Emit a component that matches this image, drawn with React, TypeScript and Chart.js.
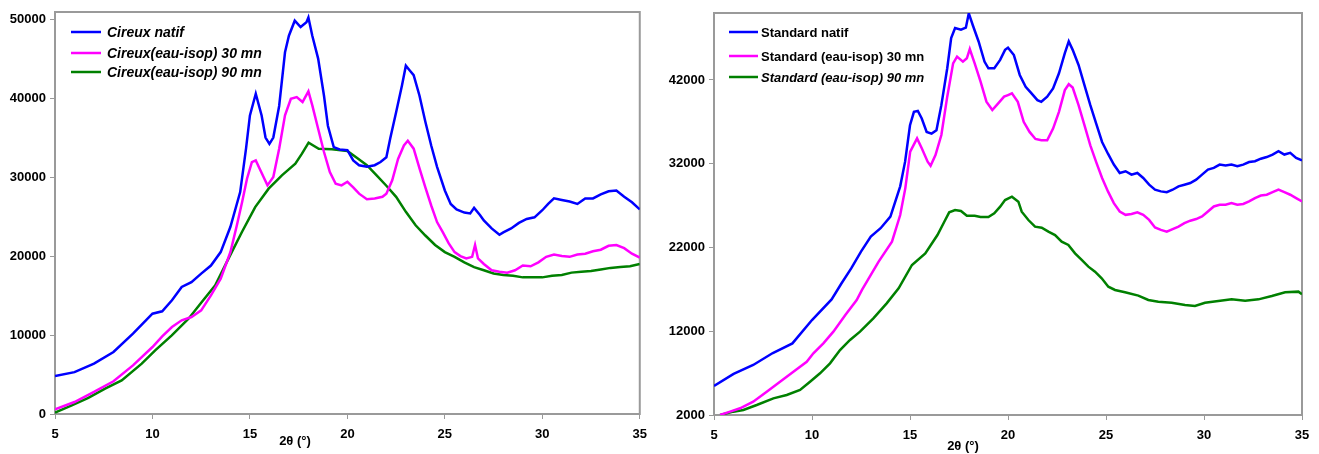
import React, { useEffect, useRef } from "react";
import { Chart, registerables } from "chart.js";

Chart.register(...registerables);

const FONT = '"Liberation Sans", Arial, sans-serif';

type Pt = [number, number];

const xAxisTitle = "2θ (°)";
const xTicks = [5, 10, 15, 20, 25, 30, 35];
const leftYTicks = [0, 10000, 20000, 30000, 40000, 50000];
const rightYTicks = [2000, 12000, 22000, 32000, 42000];

const leftLabels = ["Cireux natif", "Cireux(eau-isop) 30 mn", "Cireux(eau-isop) 90 mn"];
const rightLabels = ["Standard natif", "Standard (eau-isop) 30 mn", "Standard (eau-isop) 90 mn"];

// ---- Left chart: Cireux ----
const cireuxNatif: Pt[] = [
  [5, 4800], [6, 5300], [7, 6370], [8, 7850], [9, 10170], [10, 12700], [10.5, 13000],
  [11, 14400], [11.5, 16080], [12, 16700], [12.5, 17770], [13, 18800], [13.5, 20500],
  [14, 23700], [14.5, 28100], [14.8, 33600], [15, 37800], [15.3, 40550], [15.6, 37800],
  [15.8, 35000], [16.0, 34200], [16.2, 35000], [16.5, 39000], [16.8, 45800], [17.0, 47900],
  [17.3, 49800], [17.6, 49000], [17.9, 49600], [18.0, 50200], [18.2, 47900], [18.5, 45000],
  [18.8, 40300], [19.0, 36500], [19.3, 33800], [19.6, 33500], [20.0, 33400], [20.3, 32100],
  [20.6, 31500], [21.0, 31300], [21.4, 31500], [21.7, 31900], [22.0, 32500], [22.2, 34900],
  [22.5, 38200], [22.8, 41600], [23.0, 44100], [23.2, 43500], [23.4, 42900], [23.7, 40300],
  [24.0, 37000], [24.3, 34000], [24.6, 31300], [25.0, 28300], [25.3, 26600], [25.6, 25900],
  [26.0, 25500], [26.3, 25400], [26.5, 26100], [26.8, 25200], [27.0, 24500], [27.4, 23500],
  [27.8, 22700], [28.0, 23000], [28.4, 23500], [28.8, 24200], [29.2, 24700], [29.6, 24900],
  [30.0, 25800], [30.3, 26600], [30.6, 27300], [31.0, 27100], [31.4, 26900], [31.8, 26600],
  [32.2, 27300], [32.6, 27300], [33.0, 27800], [33.4, 28200], [33.8, 28300], [34.2, 27500],
  [34.6, 26800], [35.0, 25900],
];

const cireux30: Pt[] = [
  [5, 590], [6, 1520], [7, 2790], [8, 4140], [9, 6160], [10, 8480], [10.5, 9830],
  [11, 11010], [11.5, 11860], [12, 12280], [12.5, 13120], [13, 15020], [13.5, 17130],
  [14, 20510], [14.33, 23890], [14.6, 26840], [14.85, 29790], [15.1, 31900], [15.3, 32110],
  [15.5, 31060], [15.9, 28950], [16.2, 30000], [16.5, 33590], [16.8, 37810], [17.1, 39920],
  [17.4, 40130], [17.7, 39500], [18.0, 40850], [18.2, 39080], [18.5, 36120], [18.8, 33170],
  [19.1, 30640], [19.4, 29160], [19.7, 28950], [20, 29400], [20.3, 28700], [20.6, 27900],
  [21, 27200], [21.4, 27300], [21.8, 27500], [22, 27900], [22.3, 29600], [22.6, 32300],
  [22.9, 34000], [23.1, 34600], [23.4, 33600], [23.7, 31100], [24, 28700], [24.3, 26400],
  [24.6, 24300], [24.9, 23000], [25.2, 21600], [25.5, 20500], [25.8, 20000], [26.1, 19700],
  [26.4, 19900], [26.55, 21400], [26.7, 19700], [27, 19000], [27.4, 18200], [27.8, 18000],
  [28.2, 17900], [28.6, 18200], [29, 18800], [29.4, 18700], [29.8, 19200], [30.2, 19900],
  [30.6, 20200], [31, 20000], [31.4, 19900], [31.8, 20200], [32.2, 20300], [32.6, 20600],
  [33, 20800], [33.4, 21300], [33.8, 21400], [34.2, 21000], [34.6, 20300], [35, 19800],
];

const cireux90: Pt[] = [
  [5, 170], [5.86, 1100], [6.71, 2030], [7.57, 3200], [8.42, 4260], [9.45, 6370],
  [10.14, 8060], [10.99, 9960], [11.85, 12070], [12.53, 14180], [13.22, 16290], [13.9, 19670],
  [14.59, 23040], [15.27, 26200], [15.96, 28530], [16.64, 30210], [17.33, 31690], [17.67, 32960],
  [18.01, 34350], [18.53, 33590], [19.21, 33510], [20, 33300], [20.5, 32400], [21, 31500],
  [21.5, 30200], [22, 28900], [22.5, 27500], [23, 25600], [23.5, 23900], [24, 22600],
  [24.5, 21400], [25, 20500], [25.5, 19900], [26, 19200], [26.5, 18600], [27, 18200],
  [27.5, 17800], [28, 17600], [28.5, 17500], [29, 17300], [29.5, 17300], [30, 17300],
  [30.5, 17500], [31, 17600], [31.5, 17900], [32, 18000], [32.5, 18100], [33, 18300],
  [33.5, 18500], [34, 18600], [34.5, 18700], [35, 19000],
];

// ---- Right chart: Standard ----
const standardNatif: Pt[] = [
  [5, 5460], [6, 6900], [7, 7970], [8, 9400], [9, 10550], [10, 13340], [11, 15800],
  [11.5, 17700], [12, 19500], [12.5, 21500], [13, 23300], [13.5, 24300], [14, 25700],
  [14.5, 29300], [14.75, 32250], [15.0, 36600], [15.2, 38200], [15.4, 38300], [15.6, 37400],
  [15.85, 35800], [16.1, 35600], [16.35, 36000], [16.6, 39000], [16.9, 43400], [17.1, 47000],
  [17.3, 48200], [17.6, 48000], [17.85, 48250], [18.0, 49960], [18.2, 48570], [18.5, 46600],
  [18.8, 44200], [19.0, 43400], [19.3, 43400], [19.6, 44400], [19.85, 45600], [20.0, 45860],
  [20.3, 44980], [20.6, 42600], [20.9, 41200], [21.2, 40400], [21.5, 39600], [21.7, 39400],
  [22.0, 40000], [22.3, 41000], [22.6, 42800], [22.9, 45200], [23.1, 46600], [23.3, 45600],
  [23.6, 43800], [23.9, 41400], [24.2, 39000], [24.5, 36800], [24.8, 34600], [25.1, 33200],
  [25.4, 31900], [25.7, 30900], [26.0, 31100], [26.3, 30700], [26.6, 30900], [26.9, 30300],
  [27.2, 29500], [27.5, 28900], [27.8, 28700], [28.1, 28600], [28.4, 28900], [28.7, 29300],
  [29.0, 29500], [29.3, 29700], [29.6, 30100], [29.9, 30700], [30.2, 31300], [30.5, 31500],
  [30.8, 31900], [31.1, 31800], [31.4, 31900], [31.7, 31700], [32.0, 31900], [32.3, 32200],
  [32.6, 32300], [32.9, 32600], [33.2, 32800], [33.5, 33100], [33.8, 33500], [34.1, 33100],
  [34.4, 33300], [34.7, 32700], [35.0, 32400],
];

const standard30: Pt[] = [
  [5.31, 2000], [5.82, 2400], [6.33, 2800], [7.0, 3590], [7.69, 4790], [8.37, 5980],
  [9.05, 7170], [9.73, 8360], [10.07, 9370], [10.58, 10560], [11.09, 11950], [11.7, 13940],
  [12.28, 15730], [12.55, 16930], [13.4, 20310], [14.08, 22700], [14.5, 25880], [14.76, 29060],
  [15.01, 33440], [15.36, 35030], [15.6, 33840], [15.9, 32250], [16.05, 31770], [16.3, 33040],
  [16.6, 35430], [16.9, 40010], [17.2, 43990], [17.4, 44790], [17.7, 44190], [17.9, 44590],
  [18.05, 45700], [18.3, 43990], [18.6, 41800], [18.9, 39410], [19.2, 38420], [19.5, 39210],
  [19.8, 40010], [20.0, 40200], [20.2, 40400], [20.5, 39400], [20.8, 37000], [21.1, 35800],
  [21.4, 34960], [21.7, 34800], [22.0, 34800], [22.3, 36200], [22.6, 38200], [22.9, 40800],
  [23.1, 41500], [23.3, 41100], [23.6, 39000], [23.9, 36600], [24.2, 34200], [24.5, 32200],
  [24.8, 30300], [25.1, 28700], [25.4, 27300], [25.7, 26300], [26.0, 25900], [26.3, 26000],
  [26.6, 26200], [26.9, 25900], [27.2, 25300], [27.5, 24400], [27.8, 24100], [28.1, 23900],
  [28.4, 24200], [28.7, 24500], [29.0, 24900], [29.3, 25200], [29.6, 25400], [29.9, 25700],
  [30.2, 26300], [30.5, 26900], [30.8, 27100], [31.1, 27100], [31.4, 27300], [31.7, 27100],
  [32.0, 27200], [32.3, 27500], [32.6, 27900], [32.9, 28200], [33.2, 28300], [33.5, 28600],
  [33.8, 28900], [34.1, 28600], [34.4, 28300], [34.7, 27900], [35.0, 27500],
];

const standard90: Pt[] = [
  [5.31, 2000], [5.99, 2400], [6.5, 2600], [7.18, 3190], [8.03, 3990], [8.71, 4390],
  [9.39, 4990], [9.9, 5980], [10.41, 6980], [10.92, 8170], [11.43, 9760], [11.94, 10960],
  [12.45, 11950], [13.13, 13540], [13.81, 15330], [14.42, 17120], [15.1, 19910], [15.78, 21300],
  [16.4, 23490], [16.75, 25080], [17.0, 26200], [17.3, 26480], [17.6, 26360], [17.9, 25800],
  [18.3, 25800], [18.6, 25640], [19.0, 25640], [19.3, 26080], [19.6, 26880], [19.85, 27670],
  [20.2, 28070], [20.53, 27470], [20.7, 26280], [21.04, 25280], [21.38, 24490], [21.72, 24370],
  [22.06, 23890], [22.4, 23490], [22.74, 22700], [23.08, 22300], [23.42, 21300], [23.76, 20510],
  [24.1, 19710], [24.44, 19110], [24.78, 18320], [25.12, 17320], [25.46, 16930], [25.97, 16650],
  [26.65, 16250], [27.16, 15730], [27.67, 15530], [28.35, 15410], [29.03, 15130], [29.54, 15010],
  [30.05, 15410], [30.73, 15610], [31.41, 15810], [32.1, 15650], [32.78, 15810], [33.46, 16210],
  [34.14, 16650], [34.82, 16730], [35.0, 16410],
];

const COLORS = ["#0000FF", "#FF00FF", "#008000"];

interface PanelCfg {
  left: number;
  width: number;
  series: Pt[][];
  labels: string[];
  yTicks: number[];
  yMin: number;
  yMax: number;
  yWidth: number;
  xHeight: number;
  padTop: number;
  padRight: number;
  legendX0: number;
  legendX1: number;
  legendTextX: number;
  legendYs: number[];
  legendFonts: string[];
  titleX: number;
  titleY: number;
}

const leftCfg: PanelCfg = {
  left: 0,
  width: 655,
  series: [cireuxNatif, cireux30, cireux90],
  labels: leftLabels,
  yTicks: leftYTicks,
  yMin: 0,
  yMax: 50900,
  yWidth: 55,
  xHeight: 40,
  padTop: 12,
  padRight: 10,
  legendX0: 71,
  legendX1: 101,
  legendTextX: 107,
  legendYs: [32, 53, 72],
  legendFonts: [
    `italic bold 14px ${FONT}`,
    `italic bold 14px ${FONT}`,
    `italic bold 14px ${FONT}`,
  ],
  titleX: 295,
  titleY: 441,
};

const rightCfg: PanelCfg = {
  left: 650,
  width: 669,
  series: [standardNatif, standard30, standard90],
  labels: rightLabels,
  yTicks: rightYTicks,
  yMin: 2000,
  yMax: 50000,
  yWidth: 64,
  xHeight: 39,
  padTop: 13,
  padRight: 17,
  legendX0: 79,
  legendX1: 108,
  legendTextX: 111,
  legendYs: [32, 56, 77],
  legendFonts: [
    `bold 13px ${FONT}`,
    `bold 13px ${FONT}`,
    `italic bold 13px ${FONT}`,
  ],
  titleX: 313,
  titleY: 446,
};

function makePlugins(cfg: PanelCfg) {
  const frame = {
    id: "frame",
    beforeDatasetsDraw(chart: any) {
      const { ctx, chartArea: a } = chart;
      ctx.save();
      ctx.strokeStyle = "#9a9a9a";
      ctx.lineWidth = 2;
      ctx.strokeRect(a.left, a.top, a.right - a.left, a.bottom - a.top);
      ctx.restore();
    },
  };
  const legend = {
    id: "insideLegend",
    afterDraw(chart: any) {
      const ctx = chart.ctx;
      ctx.save();
      chart.data.datasets.forEach((ds: any, i: number) => {
        const y = cfg.legendYs[i];
        ctx.strokeStyle = ds.borderColor;
        ctx.lineWidth = 2.5;
        ctx.beginPath();
        ctx.moveTo(cfg.legendX0, y);
        ctx.lineTo(cfg.legendX1, y);
        ctx.stroke();
        ctx.fillStyle = "#000";
        ctx.font = cfg.legendFonts[i];
        ctx.textAlign = "left";
        ctx.textBaseline = "middle";
        ctx.fillText(ds.label, cfg.legendTextX, y + 1);
      });
      ctx.restore();
    },
  };
  const title = {
    id: "axisTitle",
    afterDraw(chart: any) {
      const ctx = chart.ctx;
      ctx.save();
      ctx.fillStyle = "#000";
      ctx.font = `bold 13px ${FONT}`;
      ctx.textAlign = "center";
      ctx.textBaseline = "middle";
      ctx.fillText(xAxisTitle, cfg.titleX, cfg.titleY);
      ctx.restore();
    },
  };
  return [frame, legend, title];
}

function Panel({ cfg }: { cfg: PanelCfg }) {
  const ref = useRef<HTMLCanvasElement>(null);
  useEffect(() => {
    const tickFont = { family: FONT, size: 13, weight: "bold" as const };
    const chart = new Chart(ref.current as HTMLCanvasElement, {
      type: "line",
      data: {
        datasets: cfg.series.map((s, i) => ({
          label: cfg.labels[i],
          data: s.map(([x, y]) => ({ x, y })),
          borderColor: COLORS[i],
          backgroundColor: COLORS[i],
          borderWidth: 2.5,
          pointRadius: 0,
          tension: 0,
          fill: false,
        })),
      },
      options: {
        responsive: false,
        animation: false,
        devicePixelRatio: 1,
        layout: { padding: { top: cfg.padTop, right: cfg.padRight, left: 0, bottom: 0 } },
        plugins: {
          legend: { display: false },
          tooltip: { enabled: false },
          title: { display: false },
        },
        scales: {
          x: {
            type: "linear",
            min: 5,
            max: 35,
            afterBuildTicks: (s: any) => {
              s.ticks = xTicks.map((v) => ({ value: v }));
            },
            afterFit: (s: any) => {
              s.height = cfg.xHeight;
            },
            grid: { drawOnChartArea: false, drawTicks: true, tickLength: 5, color: "#999", lineWidth: 1 },
            border: { display: false },
            ticks: {
              font: tickFont,
              color: "#000",
              padding: 8,
              maxRotation: 0,
              autoSkip: false,
              callback: (v: any) => String(v),
            },
          },
          y: {
            type: "linear",
            min: cfg.yMin,
            max: cfg.yMax,
            afterBuildTicks: (s: any) => {
              s.ticks = cfg.yTicks.map((v) => ({ value: v }));
            },
            afterFit: (s: any) => {
              s.width = cfg.yWidth;
            },
            grid: { drawOnChartArea: false, drawTicks: true, tickLength: 5, color: "#999", lineWidth: 1 },
            border: { display: false },
            ticks: {
              font: tickFont,
              color: "#000",
              padding: 4,
              autoSkip: false,
              callback: (v: any) => String(v),
            },
          },
        },
      } as any,
      plugins: makePlugins(cfg) as any,
    });
    return () => chart.destroy();
  }, [cfg]);
  return (
    <canvas
      ref={ref}
      width={cfg.width}
      height={454}
      style={{ position: "absolute", left: cfg.left, top: 0, display: "block" }}
    />
  );
}

export default function App() {
  return (
    <div
      style={{
        position: "fixed",
        left: 0,
        top: 0,
        width: 1319,
        height: 454,
        background: "#fff",
        overflow: "hidden",
      }}
    >
      <Panel cfg={leftCfg} />
      <Panel cfg={rightCfg} />
    </div>
  );
}
